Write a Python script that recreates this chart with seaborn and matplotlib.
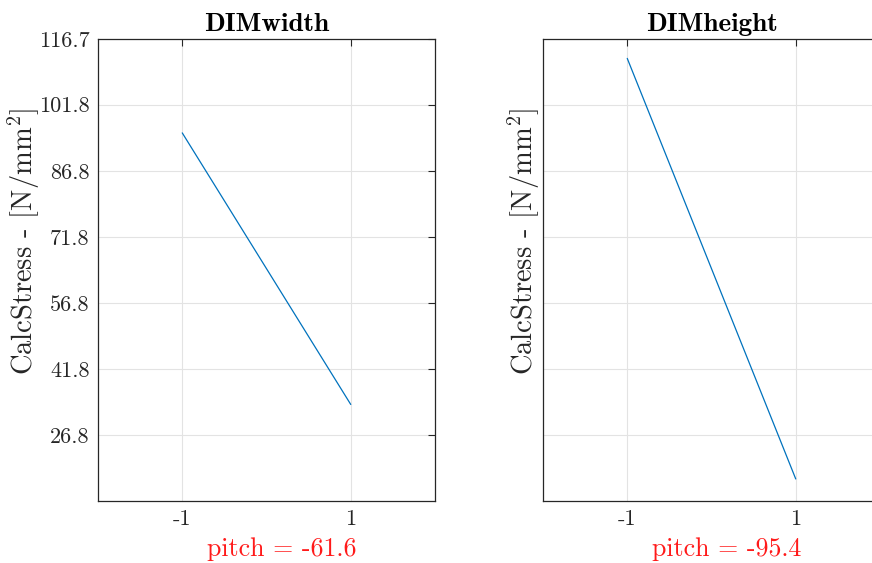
import matplotlib
matplotlib.use("Agg")
import matplotlib.pyplot as plt
import matplotlib.transforms as mtransforms
import numpy as np
import pandas as pd
import seaborn as sns

# Main effects of the two factors on the calculated stress
levels = [-1, 1]
factors = ["DIMwidth", "DIMheight"]
width_means = [95.4, 33.8]
height_means = [112.3, 16.9]
effect_labels = ["pitch = -61.6", "pitch = -95.4"]
ytick_values = [26.8, 41.8, 56.8, 71.8, 86.8, 101.8, 116.7]
ytick_labels = ["26.8", "41.8", "56.8", "71.8", "86.8", "101.8", "116.7"]
xtick_labels = ["-1", "1"]

df = pd.DataFrame({
    "factor": np.repeat(factors, len(levels)),
    "level": levels * len(factors),
    "stress": width_means + height_means,
})

sns.set_theme(style="white")
plt.rcParams["font.family"] = ["cmr10", "DejaVu Serif"]
plt.rcParams["mathtext.fontset"] = "cm"
plt.rcParams["axes.unicode_minus"] = False
plt.rcParams["axes.formatter.use_mathtext"] = True

fig = plt.figure(figsize=(8.72, 5.63), dpi=100)
W, H = 872, 563
ax_w, ax_h = 337 / W, 462 / H
bottom = (H - 501) / H
lefts = [98 / W, 543 / W]
label_x = [-0.166, -0.004]

text_col = "#262626"
for i, (fac, lab) in enumerate(zip(factors, effect_labels)):
    ax = fig.add_axes([lefts[i], bottom, ax_w, ax_h])
    sub = df[df["factor"] == fac]
    sns.lineplot(data=sub, x="level", y="stress", ax=ax, color="#0072BD",
                 linewidth=0.9, legend=False)
    ax.set_xlim(-2, 2)
    ax.set_ylim(11.9, 116.7)
    ax.set_xticks(levels)
    ax.set_xticklabels(xtick_labels)
    ax.set_yticks(ytick_values)
    if i == 0:
        ax.set_yticklabels(ytick_labels)
    else:
        ax.set_yticklabels([])
    ax.grid(True, color="#e3e3e3", linewidth=0.8)
    ax.tick_params(direction="in", length=5, width=0.8, top=True, right=True,
                   labelsize=16, colors=text_col, pad=6)
    for sp in ax.spines.values():
        sp.set_color(text_col)
        sp.set_linewidth(0.9)
    ax.set_xlabel("")
    ax.set_ylabel(r"CalcStress - [N/mm$^2$]", fontsize=20.5, color=text_col)
    ax.yaxis.set_label_coords(label_x[i], 0.563)
    ax.set_title(fac, fontsize=19.5, fontfamily="cmb10", color="black", pad=6)
    trans = mtransforms.blended_transform_factory(ax.transAxes, fig.transFigure)
    ax.text(0.5445, 1 - 549 / H, lab, transform=trans, ha="center", va="center",
            fontsize=18.6, color="#ff1a1a")

fig.savefig("out.png", dpi=100)
